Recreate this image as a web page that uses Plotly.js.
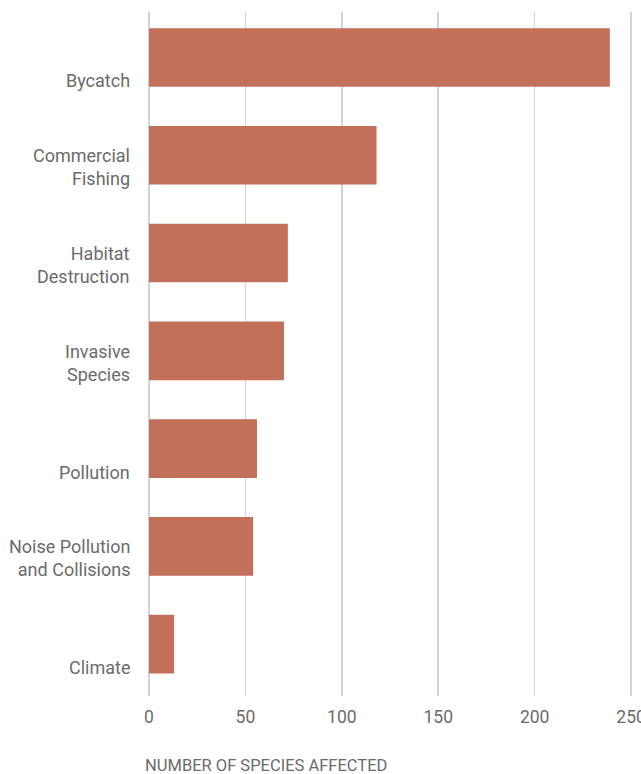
<!DOCTYPE html>
<html><head><meta charset="utf-8">
<script src="https://cdn.plot.ly/plotly-3.0.1.min.js"></script>
<style>html,body{margin:0;padding:0;background:#fff}#chart{width:641px;height:774px}</style>
</head><body><div id="chart"></div>
<script>
const categories = ["Bycatch","Commercial Fishing","Habitat Destruction","Invasive Species","Pollution","Noise Pollution and Collisions","Climate"];
const labels = ["Bycatch","Commercial<br>Fishing","Habitat<br>Destruction","Invasive<br>Species","Pollution","Noise Pollution<br>and Collisions","Climate"];
const speciesAffected = [239, 118, 72, 70, 56, 54, 13];
const xTicks = [0, 50, 100, 150, 200, 250];

const FONT = "Roboto, 'Open Sans', sans-serif";
const GREY = "#6b6b6b";

const annotations = categories.map((c, i) => ({
  xref: "paper", x: 0, xanchor: "right", xshift: -17,
  yref: "y", y: c, yanchor: "bottom", yshift: -36,
  text: labels[i], showarrow: false, align: "right",
  font: {family: FONT, size: 18, color: GREY}
}));
annotations.push({
  xref: "paper", x: 0, xanchor: "left", xshift: -6,
  yref: "paper", y: 0, yanchor: "top", yshift: -58,
  text: "NUMBER OF SPECIES AFFECTED", showarrow: false,
  font: {family: FONT, size: 16.5, color: GREY}
});

Plotly.newPlot("chart", [{
  type: "bar", orientation: "h",
  y: categories, x: speciesAffected,
  width: 0.6,
  marker: {color: "#c2705a"},
  hoverinfo: "none"
}], {
  width: 641, height: 774,
  margin: {l: 149, r: 8, t: 12, b: 78},
  paper_bgcolor: "#fff", plot_bgcolor: "#fff",
  showlegend: false,
  xaxis: {
    range: [0, 251], tickvals: xTicks, ticktext: xTicks.map(String),
    showgrid: true, gridcolor: "#d3d3d3", gridwidth: 1.5,
    zeroline: true, zerolinecolor: "#d3d3d3", zerolinewidth: 1.5,
    showline: false, ticks: "", ticklabelstandoff: 8,
    ticklabeloverflow: "allow",
    tickfont: {family: FONT, size: 17.5, color: GREY}
  },
  yaxis: {
    type: "category", categoryorder: "array", categoryarray: categories,
    range: [6.53, -0.465],
    showticklabels: false, showgrid: false, zeroline: false, ticks: ""
  },
  annotations: annotations
}, {displayModeBar: false, staticPlot: true});
</script></body></html>
